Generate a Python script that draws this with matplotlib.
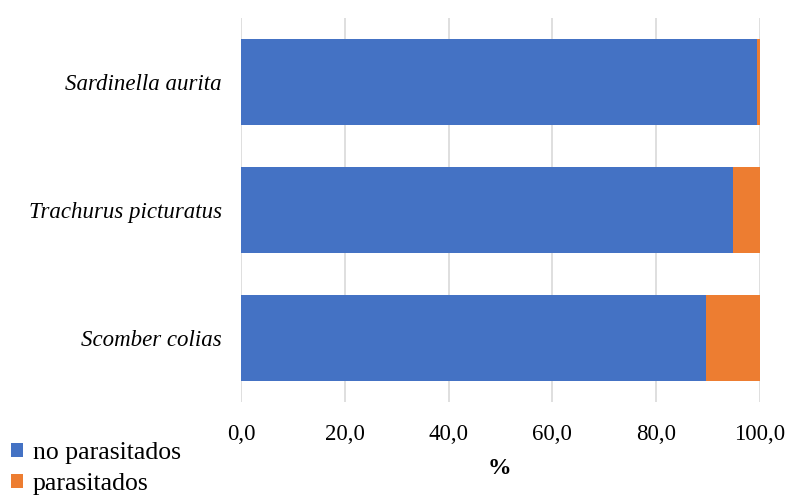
import matplotlib.pyplot as plt
import numpy as np

plt.rcParams['font.family'] = ['Liberation Serif', 'DejaVu Serif']

species = ['Scomber colias', 'Trachurus picturatus', 'Sardinella aurita']
no_parasitados = [89.5, 94.8, 99.5]
parasitados = [10.5, 5.2, 0.5]
ticks = [0, 20, 40, 60, 80, 100]
tick_labels = ['0,0', '20,0', '40,0', '60,0', '80,0', '100,0']

blue = '#4472C4'
orange = '#ED7D31'

fig = plt.figure(figsize=(7.9, 4.95), dpi=100)
ax = fig.add_axes([241 / 790, 1 - 402 / 495, (760 - 241) / 790, (402 - 18) / 495])

y = np.arange(len(species))
b1 = ax.barh(y, no_parasitados, height=0.67, color=blue, label='no parasitados', zorder=3)
b2 = ax.barh(y, parasitados, left=no_parasitados, height=0.67, color=orange,
             label='parasitados', zorder=3)

ax.set_xlim(0, 100)
ax.set_ylim(-0.5, 2.5)
ax.set_xticks(ticks)
ax.set_xticklabels(tick_labels, fontsize=16.5)
ax.set_yticks(y)
ax.set_yticklabels(species, fontsize=16.5, style='italic')
ax.tick_params(axis='x', length=0, pad=16)
ax.tick_params(axis='y', length=0, pad=14)
ax.grid(axis='x', color='#d9d9d9', linewidth=1.2, zorder=0)
for s in ax.spines.values():
    s.set_visible(False)

fig.text(499 / 790, 1 - 468 / 495, '%', fontsize=17, fontweight='bold',
         ha='center', va='center')

fig.legend(handles=[b1, b2], loc='upper left', bbox_to_anchor=(0.014, 1 - 442 / 495),
           frameon=False, fontsize=18.5, handlelength=0.45, handleheight=0.45,
           handletextpad=0.4, labelspacing=0.35, borderaxespad=0, borderpad=0)

fig.savefig('out.png', dpi=100)
